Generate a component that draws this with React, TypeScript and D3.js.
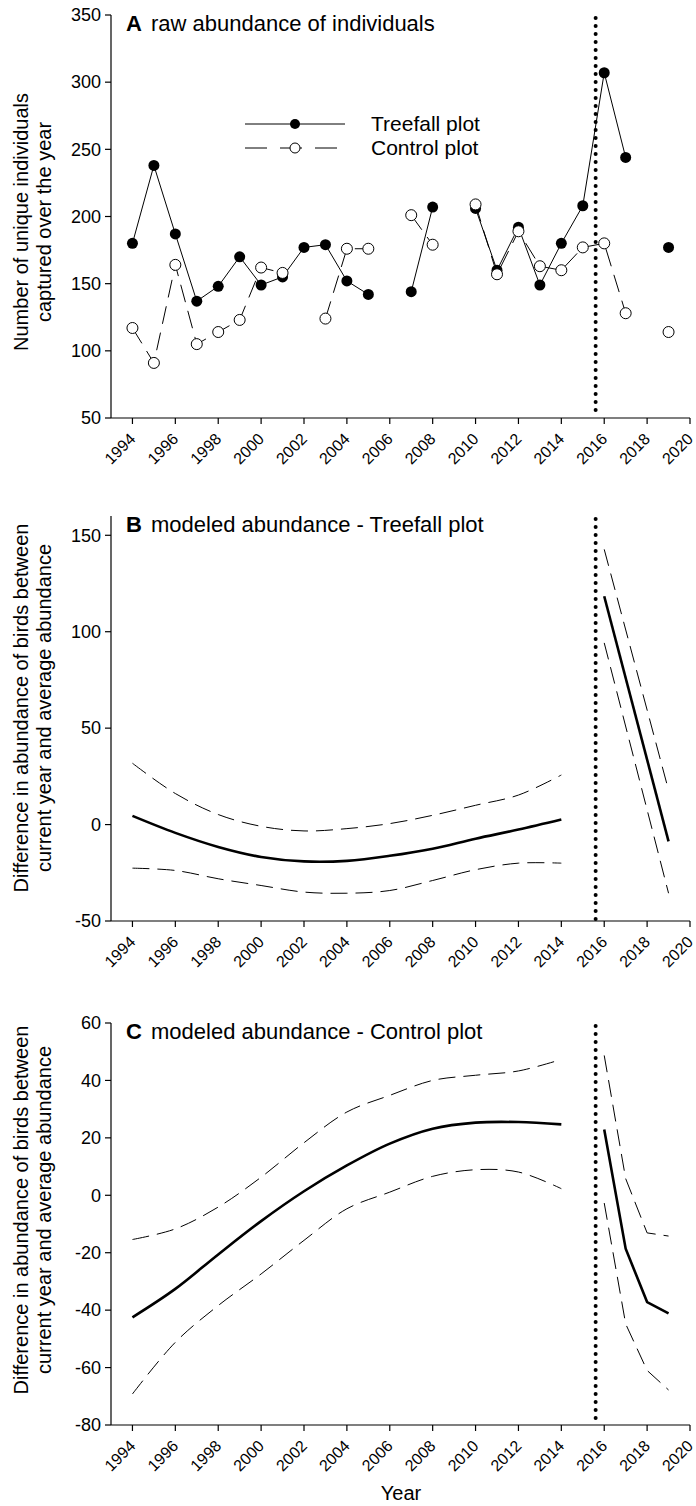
import * as d3 from 'd3';

// panel A: raw counts per year (null = no sampling)
const rawYears = [1994, 1995, 1996, 1997, 1998, 1999, 2000, 2001, 2002, 2003, 2004, 2005, 2006,
  2007, 2008, 2009, 2010, 2011, 2012, 2013, 2014, 2015, 2016, 2017, 2018, 2019];
const treefallRaw = [180, 238, 187, 137, 148, 170, 149, 155, 177, 179, 152, 142, null,
  144, 207, null, 206, 160, 192, 149, 180, 208, 307, 244, null, 177];
const controlRaw = [117, 91, 164, 105, 114, 123, 162, 158, null, 124, 176, 176, null,
  201, 179, null, 209, 157, 189, 163, 160, 177, 180, 128, null, 114];

// panels B and C: modeled differences
const preYears = [1994, 1996, 1998, 2000, 2002, 2004, 2006, 2008, 2010, 2012, 2014];
const fitB = [4.5, -4.3, -11.6, -16.8, -19.1, -18.8, -16.2, -12.5, -7.3, -2.6, 2.6];
const upperB = [31.8, 16.1, 5.2, -0.9, -3.3, -2.1, 0.5, 4.8, 10, 15.3, 25.7];
const lowerB = [-22.6, -23.8, -28.1, -31.6, -35, -35.6, -34.2, -29, -23.4, -20, -20];
const postYearsB = [2016, 2019];
const fitBPost = [118.4, -8.7];
const upperBPost = [142.7, 17.8];
const lowerBPost = [94.2, -35.6];

const fitC = [-42.5, -32.6, -20.6, -9, 1.4, 10.4, 18, 23.2, 25.3, 25.5, 24.7];
const upperC = [-15.4, -11.7, -4.1, 6.3, 18.3, 29, 34.8, 40, 41.8, 43.3, 47.3];
const lowerC = [-69.2, -51.2, -38.4, -27.4, -15.7, -4.7, 1.1, 6.6, 8.9, 8.1, 2.3];
const postYearsC = [2016, 2017, 2018, 2019];
const fitCPost = [22.9, -18.6, -37.2, -41.1];
const upperCPost = [48.7, 5.8, -13.1, -14.2];
const lowerCPost = [-2.7, -44.8, -61, -67.8];

const xTicks = [1994, 1996, 1998, 2000, 2002, 2004, 2006, 2008, 2010, 2012, 2014, 2016, 2018, 2020];
const treefallEvent = 2015.6;

const FONT = '"Liberation Sans", Arial, Helvetica, sans-serif';
const x = d3.scaleLinear().domain([1993, 2020]).range([111, 690]);

type PanelProps = {
  top: number;
  bottom: number;
  domain: [number, number];
  yTicks: number[];
  letter: string;
  title: string;
  labelLines: string[];
  labelCenter: number;
  children: (y: d3.ScaleLinear<number, number>) => React.ReactNode;
};

function Panel({ top, bottom, domain, yTicks, letter, title, labelLines, labelCenter, children }: PanelProps) {
  const y = d3.scaleLinear().domain(domain).range([bottom, top]);
  return (
    <g>
      {/* y axis */}
      <line x1={111} x2={111} y1={top} y2={bottom} stroke="#000" strokeWidth={1.2} />
      {yTicks.map(t => (
        <g key={t}>
          <line x1={105} x2={111} y1={y(t)} y2={y(t)} stroke="#000" strokeWidth={1.2} />
          <text x={101} y={y(t)} dy="0.35em" textAnchor="end" fontSize={18}>{t}</text>
        </g>
      ))}
      {/* x axis */}
      <line x1={111} x2={690} y1={bottom} y2={bottom} stroke="#000" strokeWidth={1.2} />
      {xTicks.map(t => (
        <g key={t}>
          <line x1={x(t)} x2={x(t)} y1={bottom} y2={bottom + 6} stroke="#000" strokeWidth={1.2} />
          <text transform={`translate(${x(t) + 4},${bottom + 22}) rotate(-45)`} textAnchor="end" fontSize={16}>{t}</text>
        </g>
      ))}
      {/* axis label */}
      {labelLines.map((l, i) => (
        <text key={i} transform={`translate(${28 + i * 23},${labelCenter}) rotate(-90)`} textAnchor="middle" fontSize={20}>{l}</text>
      ))}
      {/* title */}
      <text x={126} y={top + 16} fontSize={22} fontWeight="bold">{letter}</text>
      <text x={151} y={top + 16} fontSize={22}>{title}</text>
      {children(y)}
      {/* treefall event */}
      <line x1={x(treefallEvent)} x2={x(treefallEvent)} y1={top + 3} y2={bottom} stroke="#000"
        strokeWidth={4} strokeDasharray="0 8" strokeLinecap="round" />
    </g>
  );
}

function curves(y: d3.ScaleLinear<number, number>, yrs: number[], fit: number[], up: number[], lo: number[], curve: d3.CurveFactory) {
  const line = d3.line<number>().x((_, i) => x(yrs[i])).y(d => y(d)).curve(curve);
  return (
    <g fill="none" stroke="#000">
      <path d={line(up) ?? ''} strokeWidth={1} strokeDasharray="17 8" />
      <path d={line(lo) ?? ''} strokeWidth={1} strokeDasharray="17 8" />
      <path d={line(fit) ?? ''} strokeWidth={2.6} />
    </g>
  );
}

export default function App() {
  return (
    <svg width={696} height={1506} style={{ position: 'absolute', left: 0, top: 0, background: '#fff' }}
      fontFamily={FONT}>
      <Panel top={15} bottom={418} domain={[50, 350]} yTicks={[50, 100, 150, 200, 250, 300, 350]}
        letter="A" title="raw abundance of individuals"
        labelLines={['Number of unique individuals', 'captured over the year']} labelCenter={222}>
        {y => {
          const line = d3.line<number | null>()
            .defined(d => d != null)
            .x((_, i) => x(rawYears[i]))
            .y(d => y(d as number));
          return (
            <g>
              <path d={line(controlRaw) ?? ''} fill="none" stroke="#000" strokeWidth={1} strokeDasharray="18 9" />
              <path d={line(treefallRaw) ?? ''} fill="none" stroke="#000" strokeWidth={1} />
              {treefallRaw.map((v, i) => v == null ? null : (
                <circle key={'t' + i} cx={x(rawYears[i])} cy={y(v)} r={5.5} fill="#000" />
              ))}
              {controlRaw.map((v, i) => v == null ? null : (
                <circle key={'c' + i} cx={x(rawYears[i])} cy={y(v)} r={5.5} fill="#fff" stroke="#000" strokeWidth={1} />
              ))}
              {/* legend */}
              <line x1={245} x2={345} y1={124} y2={124} stroke="#000" strokeWidth={1} />
              <circle cx={295} cy={124} r={5} fill="#000" />
              <line x1={245} x2={345} y1={148} y2={148} stroke="#000" strokeWidth={1} strokeDasharray="22 13" />
              <circle cx={295} cy={148} r={5} fill="#fff" stroke="#000" />
              <text x={371} y={131} fontSize={21}>Treefall plot</text>
              <text x={371} y={155} fontSize={21}>Control plot</text>
            </g>
          );
        }}
      </Panel>
      <Panel top={516} bottom={921} domain={[-50, 160]} yTicks={[-50, 0, 50, 100, 150]}
        letter="B" title="modeled abundance - Treefall plot"
        labelLines={['Difference in abundance of birds between', 'current year and average abundance']} labelCenter={708}>
        {y => (
          <g>
            {curves(y, preYears, fitB, upperB, lowerB, d3.curveCatmullRom)}
            {curves(y, postYearsB, fitBPost, upperBPost, lowerBPost, d3.curveLinear)}
          </g>
        )}
      </Panel>
      <Panel top={1023} bottom={1425} domain={[-80, 60]} yTicks={[-80, -60, -40, -20, 0, 20, 40, 60]}
        letter="C" title="modeled abundance - Control plot"
        labelLines={['Difference in abundance of birds between', 'current year and average abundance']} labelCenter={1210}>
        {y => (
          <g>
            {curves(y, preYears, fitC, upperC, lowerC, d3.curveCatmullRom)}
            {curves(y, postYearsC, fitCPost, upperCPost, lowerCPost, d3.curveLinear)}
          </g>
        )}
      </Panel>
      <text x={401} y={1500} textAnchor="middle" fontSize={20}>Year</text>
    </svg>
  );
}
